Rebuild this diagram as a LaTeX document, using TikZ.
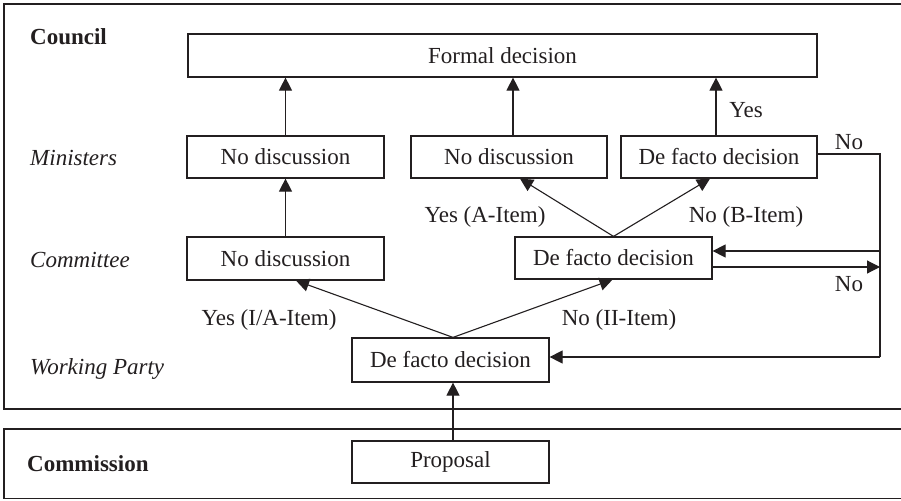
\documentclass[tikz,border=0pt]{standalone}
\usepackage{fontspec}
\setmainfont{Liberation Serif}
\usetikzlibrary{arrows.meta}
\definecolor{ink}{HTML}{231F20}
\begin{document}
\begin{tikzpicture}[x=1pt,y=-1pt,
  every node/.style={font=\fontsize{23}{27}\selectfont, text=ink},
  box/.style={draw=ink, line width=1.2pt, inner sep=0pt, minimum height=43pt, align=center},
  conn/.style={draw=ink, line width=1.1pt},
  arr/.style={conn, -{Triangle[length=13pt,width=13pt]}},
  lbl/.style={inner sep=0pt},
  rowlbl/.style={anchor=base west, inner sep=0pt, font=\fontsize{23}{27}\selectfont\itshape},
  boldlbl/.style={anchor=base west, inner sep=0pt, font=\fontsize{23}{27}\selectfont\bfseries},
  region/.style={draw=ink, line width=1.4pt}
]
\clip (0,0) rectangle (901,500);
\fill[white] (0,0) rectangle (901,500);

% regions
\draw[region] (4,4) rectangle (915,409);
\draw[region] (4,429) rectangle (915,498.5);

% row labels
\node[boldlbl] (lcouncil) at (30,45) {Council};
\node[rowlbl] (lmin) at (30,165.5) {Ministers};
\node[rowlbl] (lcom) at (30,267) {Committee};
\node[rowlbl] (lwp) at (30,374) {Working Party};
\node[boldlbl] (lcomm) at (27,471) {Commission};

% boxes
\node[box, minimum width=629pt] (formal) at (502.5,55.5) {Formal decision};
\node[box, minimum width=197pt, minimum height=42pt] (min1) at (285.5,157) {No discussion};
\node[box, minimum width=196pt, minimum height=42pt] (min2) at (509,157) {No discussion};
\node[box, minimum width=196pt, minimum height=42pt] (min3) at (719,157) {De facto decision};
\node[box, minimum width=197pt] (com1) at (285.5,258.5) {No discussion};
\node[box, minimum width=197pt, minimum height=42pt] (com2) at (613.5,258) {De facto decision};
\node[box, minimum width=197pt, minimum height=44pt] (wp) at (450.5,360) {De facto decision};
\node[box, minimum width=197pt, minimum height=42pt] (prop) at (450.5,462) {Proposal};

% connectors
\draw[arr] ([xshift=2.5pt]prop.north) -- ([xshift=2.5pt]wp.south);
\coordinate (wpTop) at ([xshift=2.5pt]wp.north);
\draw[arr] (wpTop) -- ([xshift=10.5pt]com1.south);
\draw[arr] (wpTop) -- ([xshift=-1pt]com2.south);
\draw[arr] (com1.north) -- (min1.south);
\draw[arr] (min1.north) -- (min1.north |- formal.south);
\coordinate (c2top) at (com2.north);
\draw[arr] (c2top) -- ([xshift=11pt]min2.south);
\draw[arr] (c2top) -- ([xshift=-9pt]min3.south);
\draw[arr] ([xshift=4pt]min2.north) -- ([xshift=4pt]min2.north |- formal.south);
\draw[arr] ([xshift=-3pt]min3.north) -- ([xshift=-3pt]min3.north |- formal.south);

\coordinate (r1) at (880,154);
\coordinate (r2) at (880,357);
\coordinate (r3) at (880,251);
\coordinate (r4) at (880,267);
\draw[conn] ([yshift=3pt]min3.east) -- (r1) -- (r2);
\draw[arr] (r2) -- (wp.east |- r2);
\draw[arr] (r3) -- (com2.east |- r3);
\draw[arr] (com2.east |- r4) -- (r4);

% edge labels
\node[lbl] (tyes) at (746,110) {Yes};
\node[lbl] (tno1) at (849,142) {No};
\node[lbl] (tno2) at (849,284) {No};
\node[lbl] (tya) at (485,217) {Yes (A-Item)};
\node[lbl] (tnb) at (746,217) {No (B-Item)};
\node[lbl] (tyia) at (269,320) {Yes (I/A-Item)};
\node[lbl] (tnii) at (619,320) {No (II-Item)};
\end{tikzpicture}
\end{document}
